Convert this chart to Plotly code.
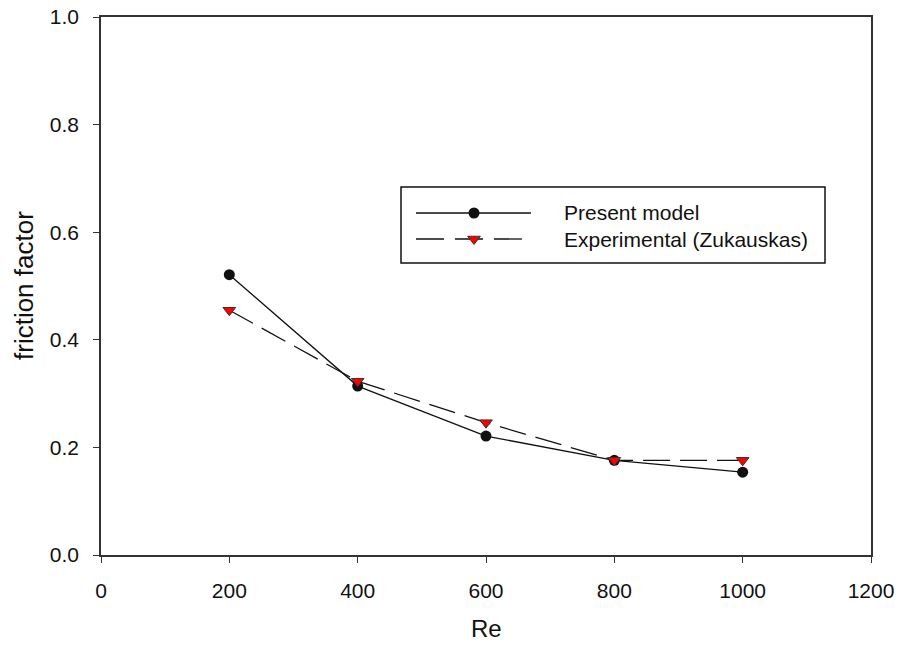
import plotly.graph_objects as go

# ---- data ----
re_values = [200, 400, 600, 800, 1000]
present_model = [0.521, 0.314, 0.221, 0.176, 0.154]
experimental = [0.455, 0.323, 0.246, 0.176, 0.176]
series_names = ["Present model", "Experimental (Zukauskas)"]
x_ticks = [0, 200, 400, 600, 800, 1000, 1200]
y_ticks = [0.0, 0.2, 0.4, 0.6, 0.8, 1.0]

FONT = "Liberation Sans, Arial, sans-serif"
W, H = 901, 645
L, R, T, B = 101, 30, 17, 90
PW, PH = W - L - R, H - T - B


def px(x):
    return (x - L) / PW


def py(y):
    return (H - B - y) / PH


fig = go.Figure()

fig.add_trace(go.Scatter(
    x=re_values, y=present_model, mode="lines+markers", name=series_names[0],
    line=dict(color="#111111", width=1.3),
    marker=dict(symbol="circle", size=11, color="#111111"),
    showlegend=False,
))
fig.add_trace(go.Scatter(
    x=re_values, y=experimental, mode="lines+markers", name=series_names[1],
    line=dict(color="#111111", width=1.3, dash="27px,10px"),
    marker=dict(symbol="triangle-down", size=11, color="#ff0000",
                line=dict(color="#333333", width=1)),
    showlegend=False,
))

# ---- manual legend (box, samples, text) ----
bx0, bx1, by0, by1 = px(401), px(825), py(263), py(187)
row_y = [py(213), py(239)]
lx0, lx1, lm = px(416), px(522), px(474)
fig.add_shape(type="rect", xref="paper", yref="paper", x0=bx0, x1=bx1, y0=by0, y1=by1,
              line=dict(color="#111111", width=1.5), fillcolor="white", layer="below")
fig.add_shape(type="line", xref="paper", yref="paper", x0=lx0, x1=px(531), y0=row_y[0], y1=row_y[0],
              line=dict(color="#111111", width=1.3), layer="below")
fig.add_shape(type="line", xref="paper", yref="paper", x0=lx0, x1=lx1, y0=row_y[1], y1=row_y[1],
              line=dict(color="#111111", width=1.3, dash="28px,11px"), layer="below")
fig.add_trace(go.Scatter(
    x=[lm], y=[row_y[0]], xaxis="x2", yaxis="y2", mode="markers", showlegend=False,
    marker=dict(symbol="circle", size=11, color="#111111"), hoverinfo="skip"))
fig.add_trace(go.Scatter(
    x=[lm], y=[row_y[1]], xaxis="x2", yaxis="y2", mode="markers", showlegend=False,
    marker=dict(symbol="triangle-down", size=11, color="#ff0000",
                line=dict(color="#333333", width=1)), hoverinfo="skip"))
for name, yy in zip(series_names, row_y):
    fig.add_annotation(x=px(562), y=yy, xref="paper", yref="paper", text=name,
                       showarrow=False, xanchor="left", yanchor="middle",
                       font=dict(family=FONT, size=21, color="#111111"))

# axis titles
fig.add_annotation(x=px(486), y=py(629), xref="paper", yref="paper", text="Re",
                   showarrow=False, xanchor="center", yanchor="middle",
                   font=dict(family=FONT, size=24, color="#111111"))
fig.add_annotation(x=px(24), y=py(286), xref="paper", yref="paper", text="friction factor",
                   showarrow=False, xanchor="center", yanchor="middle", textangle=-90,
                   font=dict(family=FONT, size=26, color="#111111"))

fig.update_layout(
    width=W, height=H,
    margin=dict(l=L, r=R, t=T, b=B, pad=0),
    paper_bgcolor="white", plot_bgcolor="white",
    font=dict(family=FONT, color="#111111"),
    xaxis=dict(
        range=[0, 1200], tickvals=x_ticks, ticktext=[str(v) for v in x_ticks],
        ticks="outside", ticklen=6, tickwidth=1.3, tickcolor="#333333",
        showline=True, linecolor="#333333", linewidth=1.5, mirror=True,
        showgrid=False, zeroline=False, automargin=False,
        tickfont=dict(family=FONT, size=21, color="#111111"),
        ticklabelstandoff=10,
    ),
    yaxis=dict(
        range=[0, 1.0], tickvals=y_ticks, ticktext=[f"{v:.1f}" for v in y_ticks],
        ticks="outside", ticklen=6, tickwidth=1.3, tickcolor="#333333",
        showline=True, linecolor="#333333", linewidth=1.5, mirror=True,
        showgrid=False, zeroline=False, automargin=False,
        tickfont=dict(family=FONT, size=21, color="#111111"),
        ticklabelstandoff=10,
    ),
    xaxis2=dict(overlaying="x", range=[0, 1], visible=False, anchor="y2"),
    yaxis2=dict(overlaying="y", range=[0, 1], visible=False, anchor="x2"),
)

fig.write_html("out.html")
